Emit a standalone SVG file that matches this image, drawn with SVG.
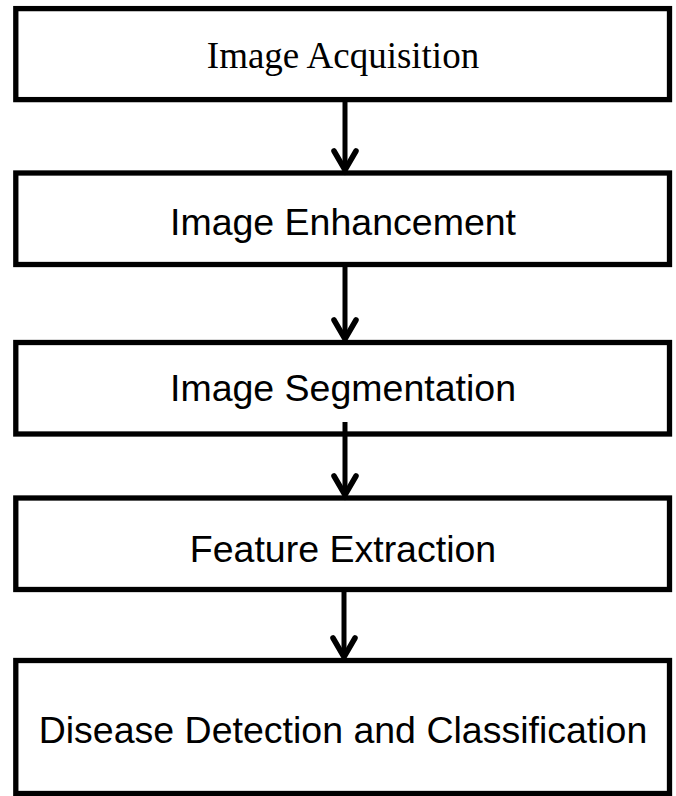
<svg xmlns="http://www.w3.org/2000/svg" width="676" height="796" viewBox="0 0 676 796">
<defs>
<style>
.box{fill:#fff;stroke:#000;stroke-width:5.3}
.serif{font-family:"Liberation Serif","Times New Roman",serif;font-size:37px;fill:#000;text-anchor:middle}
.sans{font-family:"Liberation Sans",Arial,sans-serif;font-size:37.5px;fill:#000;text-anchor:middle}
.line{stroke:#000;stroke-width:5;fill:none}
.head{stroke:#000;stroke-width:5.5;fill:none;stroke-linecap:round;stroke-linejoin:miter}
</style>
</defs>
<rect width="676" height="796" fill="#fff"/>
<g id="n1"><rect class="box" x="15.8" y="8.6" width="653.7" height="91"/><text class="serif" x="343" y="67.5">Image Acquisition</text></g>
<g id="n2"><rect class="box" x="15.8" y="173" width="653.7" height="91.5"/><text class="sans" x="343" y="235">Image Enhancement</text></g>
<g id="n3"><rect class="box" x="15.8" y="342.5" width="653.7" height="91.5"/><text class="sans" x="343" y="401">Image Segmentation</text></g>
<g id="n4"><rect class="box" x="15.8" y="498" width="653.7" height="91.5"/><text class="sans" x="343" y="562">Feature Extraction</text></g>
<g id="n5"><rect class="box" x="15.8" y="660.5" width="653.7" height="133"/><text class="sans" x="343" y="743">Disease Detection and Classification</text></g>
<g id="connectors">
<line class="line" x1="345" y1="102" x2="345" y2="170"/><polyline class="head" points="334,151 345,170 356,151"/>
<line class="line" x1="345" y1="267" x2="345" y2="339"/><polyline class="head" points="334,320 345,339 356,320"/>
<line class="line" x1="345" y1="422" x2="345" y2="495"/><polyline class="head" points="334,476 345,495 356,476"/>
<line class="line" x1="344" y1="591" x2="344" y2="657"/><polyline class="head" points="333,638 344,657 355,638"/>
</g>
</svg>
